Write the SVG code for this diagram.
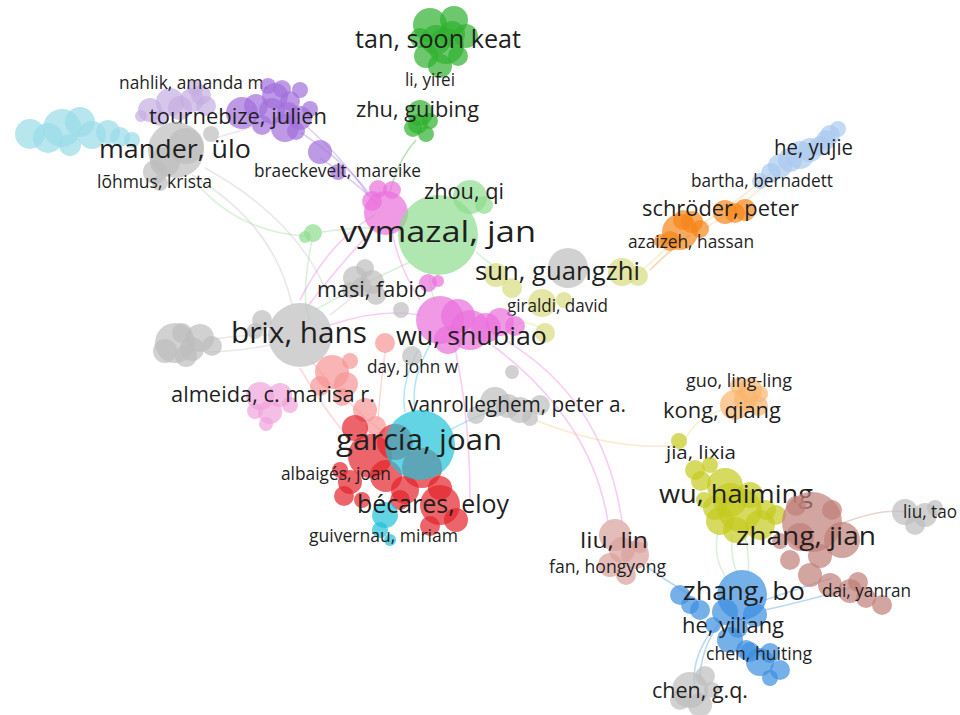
<svg xmlns="http://www.w3.org/2000/svg" width="960" height="715" viewBox="0 0 960 715">
<style>
text{font-family:"Open Sans","Liberation Sans",sans-serif;fill:#1f1f1f}
.s{font-size:17.5px}.m{font-size:22px}.l{font-size:26px}.xl{font-size:30px}
circle{stroke:none;fill-opacity:0.7}
.e{fill:none;stroke-width:1.6;stroke-opacity:0.35}
.dg{fill:#2fb02f}.lg{fill:#8edb8e}.pk{fill:#ea6fdc}.pu{fill:#a26fdb}.lv{fill:#c4aee2}.cy{fill:#98dbe8}
.gr{fill:#bdbdbd}.yl{fill:#d8dc80}.or{fill:#f5861a}.lb{fill:#a9c9f0}.sa{fill:#f69495}.lp{fill:#f0a3dc}
.rd{fill:#e3232b}.cn{fill:#1fc2d8}.lo{fill:#f9b56e}.ol{fill:#c5cb1e}.br{fill:#c07f78}.rb{fill:#d9a19c}.bl{fill:#3c8fe0}
</style>
<rect width="960" height="715" fill="#ffffff"/>
<g id="connectors">
<path class="e" stroke="#2fb02f" d="M416,140 Q398,160 390,192"/>
<path class="e" stroke="#8edb8e" d="M198,185 Q240,232 305,236"/>
<path class="e" stroke="#8edb8e" d="M322,232 Q370,225 400,230"/>
<path class="e" stroke="#bdbdbd" d="M192,175 Q275,225 292,305"/>
<path class="e" stroke="#bdbdbd" d="M205,168 Q300,220 330,300"/>
<path class="e" stroke="#bdbdbd" d="M215,138 Q245,130 270,120"/>
<path class="e" stroke="#a26fdb" d="M320,158 Q360,185 378,205"/>
<path class="e" stroke="#a26fdb" d="M300,132 Q350,165 372,198"/>
<path class="e" stroke="#a26fdb" d="M305,125 Q345,160 368,195"/>
<path class="e" stroke="#ea6fdc" d="M376,226 Q335,270 308,306"/>
<path class="e" stroke="#ea6fdc" d="M392,232 Q400,270 420,300"/>
<path class="e" stroke="#8edb8e" d="M410,262 Q350,290 315,310"/>
<path class="e" stroke="#8edb8e" d="M312,240 Q300,300 310,320"/>
<path class="e" stroke="#8edb8e" d="M430,275 Q430,293 436,302"/>
<path class="e" stroke="#8edb8e" d="M476,252 Q488,262 496,268"/>
<path class="e" stroke="#d8dc80" d="M640,272 Q660,255 672,242"/>
<path class="e" stroke="#f5861a" d="M650,270 Q670,250 690,235"/>
<path class="e" stroke="#f5c27a" d="M700,225 Q740,200 772,172"/>
<path class="e" stroke="#f5c27a" d="M705,228 Q745,205 776,175"/>
<path class="e" stroke="#ea6fdc" d="M505,340 Q605,400 622,522"/>
<path class="e" stroke="#ea6fdc" d="M492,345 Q592,420 608,522"/>
<path class="e" stroke="#f5c27a" d="M535,420 Q615,452 680,445"/>
<path class="e" stroke="#d8dc80" d="M685,440 Q695,418 722,410"/>
<path class="e" stroke="#8edb8e" d="M718,530 Q712,560 728,580"/>
<path class="e" stroke="#8edb8e" d="M732,535 Q730,560 738,575"/>
<path class="e" stroke="#8edb8e" d="M745,535 Q750,560 748,572"/>
<path class="e" stroke="#3c8fe0" d="M690,595 Q662,578 646,566"/>
<path class="e" stroke="#c07f78" d="M838,525 Q880,508 905,512"/>
<path class="e" stroke="#3c8fe0" d="M765,600 Q800,588 832,578"/>
<path class="e" stroke="#3c8fe0" d="M765,610 Q810,600 850,588"/>
<path class="e" stroke="#3c8fe0" d="M720,622 Q700,650 700,680"/>
<path class="e" stroke="#3c8fe0" d="M712,630 Q690,660 695,690"/>
<path class="e" stroke="#f69495" d="M312,362 Q345,402 380,430"/>
<path class="e" stroke="#f69495" d="M300,368 Q330,420 360,450"/>
<path class="e" stroke="#1fc2d8" d="M430,345 Q410,380 415,410"/>
<path class="e" stroke="#1fc2d8" d="M418,350 Q400,385 405,412"/>
<path class="e" stroke="#1fc2d8" d="M450,430 Q478,415 495,410"/>
<path class="e" stroke="#bdbdbd" d="M270,335 Q235,335 210,340"/>
<path class="e" stroke="#bdbdbd" d="M270,345 Q235,352 205,352"/>
<path class="e" stroke="#ea6fdc" d="M330,325 Q380,308 420,315"/>
<path class="e" stroke="#bdbdbd" d="M330,315 Q350,300 360,290"/>
<path class="e" stroke="#d8dc80" d="M543,330 Q530,320 516,324"/>
<path class="e" stroke="#ea6fdc" d="M455,348 Q470,420 470,500"/>
<path class="e" stroke="#ea6fdc" d="M300,300 Q330,240 375,215"/>
<path class="e" stroke="#f69495" d="M385,352 Q380,390 378,420"/>
</g>
<g id="n-tan-soon-keat">
<circle class="dg" cx="430" cy="25" r="17"/><circle class="dg" cx="454" cy="20" r="14"/><circle class="dg" cx="466" cy="36" r="12"/>
<circle class="dg" cx="446" cy="46" r="18"/><circle class="dg" cx="426" cy="56" r="12"/><circle class="dg" cx="440" cy="66" r="12"/>
<circle class="dg" cx="458" cy="56" r="10"/><circle class="dg" cx="420" cy="38" r="10"/><circle class="dg" cx="436" cy="40" r="15"/><circle class="dg" cx="452" cy="34" r="13"/>
<text class="l" x="355" y="48" textLength="166" lengthAdjust="spacingAndGlyphs">tan, soon keat</text>
</g>
<g id="n-li-yifei"><text class="s" x="405" y="86" textLength="50" lengthAdjust="spacingAndGlyphs">li, yifei</text></g>
<g id="n-zhu-guibing">
<circle class="dg" cx="420" cy="113" r="13"/><circle class="dg" cx="413" cy="128" r="9"/><circle class="dg" cx="426" cy="134" r="8"/><circle class="dg" cx="430" cy="121" r="8"/><circle class="dg" cx="418" cy="124" r="10"/>
<text class="m" x="356" y="117" textLength="123" lengthAdjust="spacingAndGlyphs">zhu, guibing</text>
</g>
<g id="n-nahlik">
<circle class="lv" cx="150" cy="110" r="12"/><circle class="lv" cx="170" cy="102" r="14"/><circle class="lv" cx="192" cy="100" r="12"/>
<circle class="lv" cx="206" cy="106" r="10"/><circle class="lv" cx="195" cy="88" r="8"/><circle class="lv" cx="160" cy="118" r="8"/>
<circle class="lv" cx="180" cy="108" r="12"/><circle class="lv" cx="141" cy="116" r="6"/><circle class="lv" cx="201" cy="95" r="10"/>
<text class="s" x="119" y="89" textLength="149" lengthAdjust="spacingAndGlyphs">nahlik, amanda m.</text>
</g>
<g id="n-cyan-left">
<circle class="cy" cx="30" cy="134" r="15"/><circle class="cy" cx="48" cy="138" r="15"/><circle class="cy" cx="62" cy="128" r="19"/><circle class="cy" cx="80" cy="122" r="15"/>
<circle class="cy" cx="92" cy="135" r="14"/><circle class="cy" cx="108" cy="132" r="12"/><circle class="cy" cx="120" cy="137" r="10"/><circle class="cy" cx="132" cy="140" r="8"/><circle class="cy" cx="70" cy="145" r="11"/>
</g>
<g id="n-tournebize">
<circle class="pu" cx="242" cy="113" r="16"/><circle class="pu" cx="275" cy="96" r="13"/><circle class="pu" cx="290" cy="101" r="10"/>
<circle class="pu" cx="300" cy="118" r="12"/><circle class="pu" cx="285" cy="128" r="14"/><circle class="pu" cx="262" cy="125" r="10"/>
<circle class="pu" cx="300" cy="90" r="8"/><circle class="pu" cx="268" cy="86" r="8"/>
<circle class="pu" cx="256" cy="106" r="12"/><circle class="pu" cx="272" cy="111" r="13"/><circle class="pu" cx="288" cy="113" r="11"/>
<circle class="pu" cx="296" cy="131" r="9"/><circle class="pu" cx="310" cy="109" r="8"/><circle class="pu" cx="282" cy="89" r="9"/>
<circle class="pu" cx="320" cy="152" r="12"/><circle class="pu" cx="338" cy="172" r="8"/>
<circle class="gr" cx="211" cy="134" r="8"/>
<text class="m" x="149" y="124" textLength="178" lengthAdjust="spacingAndGlyphs">tournebize, julien</text>
</g>
<g id="n-mander">
<circle class="gr" cx="176" cy="150" r="28"/><circle class="gr" cx="186" cy="146" r="18"/><circle class="gr" cx="165" cy="162" r="15"/><circle class="gr" cx="155" cy="172" r="12"/><circle class="gr" cx="160" cy="183" r="8"/>
<text class="l" x="99" y="158" textLength="152" lengthAdjust="spacingAndGlyphs">mander, ülo</text>
</g>
<g id="n-lohmus"><text class="s" x="97" y="188" textLength="115" lengthAdjust="spacingAndGlyphs">lõhmus, krista</text></g>
<g id="n-braeckevelt"><text class="s" x="254" y="177" textLength="167" lengthAdjust="spacingAndGlyphs">braeckevelt, mareike</text></g>
<g id="n-he-yujie">
<circle class="lb" cx="760" cy="181" r="8"/><circle class="lb" cx="771" cy="173" r="10"/><circle class="lb" cx="780" cy="166" r="12"/><circle class="lb" cx="790" cy="160" r="12"/><circle class="lb" cx="800" cy="155" r="14"/>
<circle class="lb" cx="810" cy="150" r="12"/><circle class="lb" cx="820" cy="146" r="10"/><circle class="lb" cx="826" cy="140" r="10"/><circle class="lb" cx="830" cy="135" r="10"/><circle class="lb" cx="838" cy="129" r="8"/>
<text class="m" x="774" y="155" textLength="79" lengthAdjust="spacingAndGlyphs">he, yujie</text>
</g>
<g id="n-bartha"><text class="s" x="691" y="187" textLength="142" lengthAdjust="spacingAndGlyphs">bartha, bernadett</text></g>
<g id="n-schroder">
<circle class="or" cx="680" cy="232" r="18"/><circle class="or" cx="670" cy="241" r="10"/><circle class="or" cx="692" cy="222" r="11"/><circle class="or" cx="661" cy="241" r="7"/><circle class="or" cx="700" cy="229" r="9"/><circle class="or" cx="683" cy="220" r="10"/>
<circle class="or" cx="725" cy="212" r="12"/><circle class="or" cx="735" cy="213" r="10"/><circle class="or" cx="745" cy="210" r="11"/>
<text class="m" x="642" y="216" textLength="157" lengthAdjust="spacingAndGlyphs">schröder, peter</text>
</g>
<g id="n-azaizeh"><text class="s" x="628" y="248" textLength="126" lengthAdjust="spacingAndGlyphs">azaizeh, hassan</text></g>
<g id="n-pink-top">
<circle class="pk" cx="386" cy="213" r="22"/><circle class="pk" cx="372" cy="201" r="10"/><circle class="pk" cx="378" cy="189" r="9"/><circle class="pk" cx="392" cy="190" r="9"/>
</g>
<g id="n-green-small"><circle class="lg" cx="313" cy="233" r="9"/><circle class="lg" cx="305" cy="237" r="6"/></g>
<g id="n-vymazal">
<circle class="lg" cx="438" cy="235" r="40"/>
<text class="xl" x="340" y="242" textLength="196" lengthAdjust="spacingAndGlyphs">vymazal, jan</text>
</g>
<g id="n-zhou-qi">
<circle class="lg" cx="470" cy="197" r="17"/><circle class="lg" cx="484" cy="205" r="9"/>
<text class="m" x="424" y="199" textLength="80" lengthAdjust="spacingAndGlyphs">zhou, qi</text>
</g>
<g id="n-sun-guangzhi">
<circle class="yl" cx="496" cy="275" r="12"/><circle class="yl" cx="512" cy="288" r="10"/><circle class="yl" cx="542" cy="303" r="14"/>
<circle class="yl" cx="564" cy="300" r="8"/><circle class="yl" cx="545" cy="333" r="10"/><circle class="yl" cx="622" cy="272" r="14"/><circle class="yl" cx="638" cy="276" r="10"/>
<circle class="gr" cx="568" cy="268" r="20"/>
<text class="l" x="475" y="280" textLength="165" lengthAdjust="spacingAndGlyphs">sun, guangzhi</text>
</g>
<g id="n-masi">
<circle class="gr" cx="355" cy="278" r="12"/><circle class="gr" cx="372" cy="282" r="12"/><circle class="gr" cx="365" cy="268" r="9"/><circle class="gr" cx="362" cy="287" r="10"/>
<circle class="gr" cx="376" cy="295" r="10"/><circle class="gr" cx="350" cy="290" r="8"/><circle class="gr" cx="401" cy="310" r="8"/>
<circle class="pk" cx="428" cy="283" r="9"/><circle class="pk" cx="438" cy="281" r="6"/>
<text class="m" x="317" y="297" textLength="110" lengthAdjust="spacingAndGlyphs">masi, fabio</text>
</g>
<g id="n-giraldi"><text class="s" x="507" y="312" textLength="101" lengthAdjust="spacingAndGlyphs">giraldi, david</text></g>
<g id="n-gray-left">
<circle class="gr" cx="175" cy="343" r="20"/><circle class="gr" cx="200" cy="338" r="14"/><circle class="gr" cx="212" cy="346" r="10"/><circle class="gr" cx="192" cy="349" r="12"/><circle class="gr" cx="182" cy="333" r="10"/>
<circle class="gr" cx="165" cy="351" r="12"/><circle class="gr" cx="186" cy="356" r="11"/>
</g>
<g id="n-brix">
<circle class="gr" cx="300" cy="335" r="32"/><circle class="gr" cx="262" cy="320" r="10"/><circle class="gr" cx="255" cy="331" r="8"/>
<text class="xl" x="231" y="343" textLength="136" lengthAdjust="spacingAndGlyphs">brix, hans</text>
</g>
<g id="n-wu-shubiao">
<circle class="pk" cx="440" cy="320" r="24"/><circle class="pk" cx="458" cy="316" r="17"/><circle class="pk" cx="470" cy="330" r="20"/><circle class="pk" cx="486" cy="328" r="15"/><circle class="pk" cx="500" cy="322" r="14"/>
<circle class="pk" cx="515" cy="326" r="10"/><circle class="pk" cx="448" cy="340" r="14"/>
<text class="l" x="396" y="345" textLength="151" lengthAdjust="spacingAndGlyphs">wu, shubiao</text>
</g>
<g id="n-salmon">
<circle class="sa" cx="385" cy="343" r="10"/><circle class="sa" cx="332" cy="372" r="17"/><circle class="sa" cx="346" cy="384" r="12"/><circle class="sa" cx="350" cy="361" r="8"/><circle class="sa" cx="320" cy="386" r="10"/>
<circle class="sa" cx="342" cy="397" r="9"/><circle class="sa" cx="365" cy="410" r="12"/><circle class="sa" cx="376" cy="426" r="10"/>
<circle class="gr" cx="412" cy="356" r="10"/><circle class="gr" cx="512" cy="372" r="7"/>
</g>
<g id="n-day"><text class="s" x="367" y="373" textLength="91" lengthAdjust="spacingAndGlyphs">day, john w</text></g>
<g id="n-almeida">
<circle class="lp" cx="260" cy="396" r="14"/><circle class="lp" cx="280" cy="395" r="12"/><circle class="lp" cx="270" cy="412" r="12"/>
<circle class="lp" cx="255" cy="411" r="8"/><circle class="lp" cx="290" cy="405" r="8"/><circle class="lp" cx="266" cy="424" r="7"/>
<text class="m" x="171" y="402" textLength="204" lengthAdjust="spacingAndGlyphs">almeida, c. marisa r.</text>
</g>
<g id="n-vanrolleghem">
<circle class="gr" cx="495" cy="402" r="15"/><circle class="gr" cx="508" cy="406" r="12"/><circle class="gr" cx="520" cy="410" r="13"/><circle class="gr" cx="540" cy="405" r="10"/><circle class="gr" cx="530" cy="418" r="8"/><circle class="gr" cx="476" cy="415" r="9"/>
<text class="m" x="408" y="412" textLength="218" lengthAdjust="spacingAndGlyphs">vanrolleghem, peter a.</text>
</g>
<g id="n-garcia">
<circle class="rd" cx="355" cy="428" r="13"/><circle class="rd" cx="370" cy="456" r="22"/><circle class="rd" cx="395" cy="442" r="18"/>
<circle class="rd" cx="422" cy="468" r="20"/><circle class="rd" cx="350" cy="482" r="12"/><circle class="rd" cx="344" cy="496" r="10"/>
<circle class="rd" cx="386" cy="476" r="16"/><circle class="rd" cx="405" cy="490" r="14"/><circle class="rd" cx="440" cy="488" r="12"/><circle class="rd" cx="340" cy="470" r="8"/>
<circle class="cn" cx="420" cy="445" r="35"/>
<text class="xl" x="336" y="450" textLength="166" lengthAdjust="spacingAndGlyphs">garcía, joan</text>
</g>
<g id="n-albaiges"><text class="s" x="281" y="480" textLength="110" lengthAdjust="spacingAndGlyphs">albaigés, joan</text></g>
<g id="n-becares">
<circle class="rd" cx="440" cy="505" r="20"/><circle class="rd" cx="456" cy="520" r="12"/><circle class="rd" cx="430" cy="526" r="10"/><circle class="rd" cx="400" cy="500" r="10"/><circle class="rd" cx="362" cy="500" r="8"/>
<circle class="cn" cx="385" cy="515" r="13"/><circle class="cn" cx="380" cy="530" r="8"/><circle class="cn" cx="390" cy="540" r="6"/>
<text class="l" x="357" y="513" textLength="152" lengthAdjust="spacingAndGlyphs">bécares, eloy</text>
</g>
<g id="n-guivernau"><text class="s" x="309" y="542" textLength="149" lengthAdjust="spacingAndGlyphs">guivernau, miriam</text></g>
<g id="n-kong-qiang">
<circle class="lo" cx="735" cy="405" r="15"/><circle class="lo" cx="746" cy="399" r="12"/><circle class="lo" cx="750" cy="390" r="12"/><circle class="lo" cx="758" cy="406" r="10"/><circle class="lo" cx="760" cy="394" r="8"/><circle class="lo" cx="738" cy="386" r="8"/>
<text class="m" x="663" y="418" textLength="118" lengthAdjust="spacingAndGlyphs">kong, qiang</text>
</g>
<g id="n-guo"><text class="s" x="686" y="387" textLength="106" lengthAdjust="spacingAndGlyphs">guo, ling-ling</text></g>
<g id="n-jia"><circle class="ol" cx="679" cy="441" r="8"/><text class="s" x="666" y="459" textLength="70" lengthAdjust="spacingAndGlyphs">jia, lixia</text></g>
<g id="n-wu-haiming">
<circle class="ol" cx="695" cy="470" r="10"/><circle class="ol" cx="710" cy="465" r="8"/><circle class="ol" cx="725" cy="486" r="18"/>
<circle class="ol" cx="740" cy="510" r="22"/><circle class="ol" cx="720" cy="521" r="14"/><circle class="ol" cx="760" cy="525" r="15"/>
<circle class="ol" cx="776" cy="515" r="10"/><circle class="ol" cx="704" cy="500" r="8"/>
<circle class="ol" cx="730" cy="500" r="17"/><circle class="ol" cx="750" cy="495" r="13"/><circle class="ol" cx="701" cy="481" r="10"/><circle class="ol" cx="715" cy="508" r="12"/><circle class="ol" cx="766" cy="510" r="10"/><circle class="ol" cx="736" cy="530" r="13"/>
<text class="l" x="659" y="503" textLength="154" lengthAdjust="spacingAndGlyphs">wu, haiming</text>
</g>
<g id="n-liu-tao">
<circle class="gr" cx="905" cy="512" r="13"/><circle class="gr" cx="925" cy="515" r="12"/><circle class="gr" cx="915" cy="525" r="10"/><circle class="gr" cx="935" cy="508" r="8"/>
<text class="s" x="903" y="518" textLength="54" lengthAdjust="spacingAndGlyphs">liu, tao</text>
</g>
<g id="n-zhang-jian">
<circle class="br" cx="812" cy="522" r="30"/><circle class="br" cx="842" cy="540" r="18"/><circle class="br" cx="790" cy="560" r="10"/>
<circle class="br" cx="810" cy="575" r="12"/><circle class="br" cx="830" cy="585" r="12"/><circle class="br" cx="850" cy="591" r="12"/>
<circle class="br" cx="866" cy="598" r="10"/><circle class="br" cx="882" cy="605" r="10"/><circle class="br" cx="832" cy="510" r="10"/>
<circle class="br" cx="800" cy="537" r="14"/><circle class="br" cx="820" cy="556" r="12"/><circle class="br" cx="858" cy="582" r="10"/><circle class="br" cx="796" cy="506" r="10"/><circle class="br" cx="780" cy="541" r="8"/>
<text class="l" x="736" y="545" textLength="140" lengthAdjust="spacingAndGlyphs">zhang, jian</text>
</g>
<g id="n-liu-lin">
<circle class="rb" cx="615" cy="535" r="16"/><circle class="rb" cx="635" cy="555" r="14"/><circle class="rb" cx="622" cy="550" r="13"/><circle class="rb" cx="640" cy="545" r="8"/><circle class="rb" cx="610" cy="565" r="12"/><circle class="rb" cx="626" cy="575" r="10"/>
<text class="m" x="580" y="548" textLength="68" lengthAdjust="spacingAndGlyphs">liu, lin</text>
</g>
<g id="n-fan"><text class="s" x="549" y="573" textLength="117" lengthAdjust="spacingAndGlyphs">fan, hongyong</text></g>
<g id="n-zhang-bo">
<circle class="bl" cx="742" cy="595" r="25"/><circle class="bl" cx="680" cy="595" r="10"/><circle class="bl" cx="690" cy="605" r="9"/><circle class="bl" cx="700" cy="610" r="10"/>
<circle class="bl" cx="713" cy="625" r="8"/><circle class="bl" cx="725" cy="612" r="13"/><circle class="bl" cx="755" cy="615" r="12"/><circle class="bl" cx="738" cy="628" r="10"/>
<circle class="bl" cx="730" cy="640" r="13"/><circle class="bl" cx="746" cy="650" r="10"/>
<text class="l" x="683" y="600" textLength="122" lengthAdjust="spacingAndGlyphs">zhang, bo</text>
</g>
<g id="n-dai"><text class="s" x="822" y="597" textLength="89" lengthAdjust="spacingAndGlyphs">dai, yanran</text></g>
<g id="n-he-yiliang"><text class="m" x="682" y="633" textLength="102" lengthAdjust="spacingAndGlyphs">he, yiliang</text></g>
<g id="n-chen-huiting">
<circle class="bl" cx="760" cy="662" r="14"/><circle class="bl" cx="780" cy="670" r="10"/><circle class="bl" cx="770" cy="653" r="10"/><circle class="bl" cx="770" cy="678" r="8"/><circle class="bl" cx="750" cy="652" r="10"/>
<text class="s" x="706" y="660" textLength="106" lengthAdjust="spacingAndGlyphs">chen, huiting</text>
</g>
<g id="n-chen-gq">
<circle class="gr" cx="690" cy="690" r="18"/><circle class="gr" cx="705" cy="676" r="10"/><circle class="gr" cx="700" cy="705" r="12"/><circle class="gr" cx="680" cy="700" r="10"/><circle class="gr" cx="712" cy="690" r="8"/>
<text class="m" x="652" y="698" textLength="96" lengthAdjust="spacingAndGlyphs">chen, g.q.</text>
</g>
</svg>
